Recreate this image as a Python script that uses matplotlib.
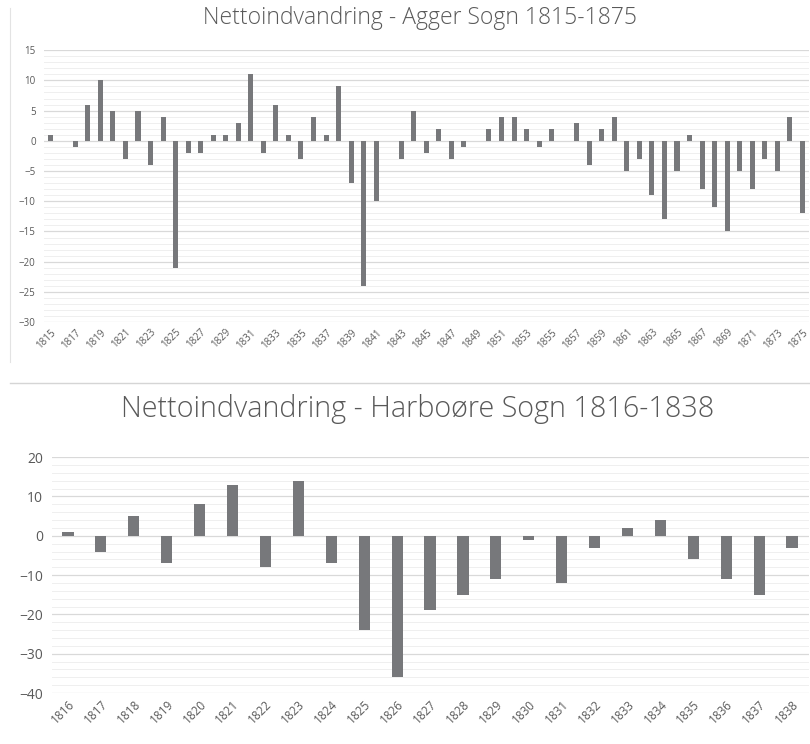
import matplotlib
matplotlib.use("Agg")
import matplotlib.pyplot as plt
from matplotlib.lines import Line2D
from matplotlib.ticker import MultipleLocator
import numpy as np

plt.rcParams["font.family"] = ["Open Sans", "DejaVu Sans"]

# Agger Sogn 1815-1875
agger_years = list(range(1815, 1876))
agger_values = [
    1, 0, -1, 6, 10, 5, -3, 5, -4, 4,
    -21, -2, -2, 1, 1, 3, 11, -2, 6, 1,
    -3, 4, 1, 9, -7, -24, -10, 0, -3, 5,
    -2, 2, -3, -1, 0, 2, 4, 4, 2, -1,
    2, 0, 3, -4, 2, 4, -5, -3, -9, -13,
    -5, 1, -8, -11, -15, -5, -8, -3, -5, 4,
    -12,
]

# Harboøre Sogn 1816-1838
harboore_years = list(range(1816, 1839))
harboore_values = [
    1, -4, 5, -7, 8, 13, -8, 14, -7, -24,
    -36, -19, -15, -11, -1, -12, -3, 2, 4, -6,
    -11, -15, -3,
]

bar_color = "#77787b"
text_color = "#595959"
grid_major = "#d9d9d9"
grid_minor = "#efefef"

fig = plt.figure(figsize=(8.1, 7.44), dpi=100)


def style_axes(ax, ymin, ymax, major, minor, ytick_size):
    ax.set_ylim(ymin, ymax)
    ax.yaxis.set_major_locator(MultipleLocator(major))
    ax.yaxis.set_minor_locator(MultipleLocator(minor))
    ax.grid(axis="y", which="major", color=grid_major, linewidth=0.9)
    ax.grid(axis="y", which="minor", color=grid_minor, linewidth=0.7)
    ax.set_axisbelow(True)
    for s in ax.spines.values():
        s.set_visible(False)
    ax.tick_params(axis="both", which="both", length=0, colors=text_color)
    ax.tick_params(axis="y", labelsize=ytick_size, pad=6)


# top chart
ax1 = fig.add_axes([0.0543, 0.567, 0.944, 0.3656])
x1 = np.arange(len(agger_years))
ax1.bar(x1, agger_values, width=0.4, color=bar_color, zorder=3)
ax1.set_xlim(-0.5, len(agger_years) - 0.5)
style_axes(ax1, -30, 15, 5, 1, 7)
ax1.set_xticks(x1[::2])
ax1.set_xticklabels([str(y) for y in agger_years[::2]], rotation=45,
                    fontsize=7, ha="right", rotation_mode="anchor")
fig.text(0.518, 0.976, "Nettoindvandring - Agger Sogn 1815-1875",
         ha="center", va="center", fontsize=16.5, color=text_color,
         fontweight="light")

# bottom chart
ax2 = fig.add_axes([0.0636, 0.0685, 0.9346, 0.317])
x2 = np.arange(len(harboore_years))
ax2.bar(x2, harboore_values, width=0.34, color=bar_color, zorder=3)
ax2.set_xlim(-0.5, len(harboore_years) - 0.5)
style_axes(ax2, -40, 20, 10, 2, 10)
ax2.set_xticks(x2)
ax2.set_xticklabels([str(y) for y in harboore_years], rotation=45,
                    fontsize=8.5, ha="right", rotation_mode="anchor")
fig.text(0.515, 0.45, "Nettoindvandring - Harboøre Sogn 1816-1838",
         ha="center", va="center", fontsize=20.7, color=text_color,
         fontweight="light")

# panel borders
fig.add_artist(Line2D([10 / 810, 10 / 810], [1 - 8 / 744, 1 - 362 / 744],
                      color="#e3e3e3", linewidth=0.8))
fig.add_artist(Line2D([10 / 810, 1.0], [1 - 383 / 744, 1 - 383 / 744],
                      color="#d5d5d5", linewidth=1.0))

fig.savefig("out.png", dpi=100)
